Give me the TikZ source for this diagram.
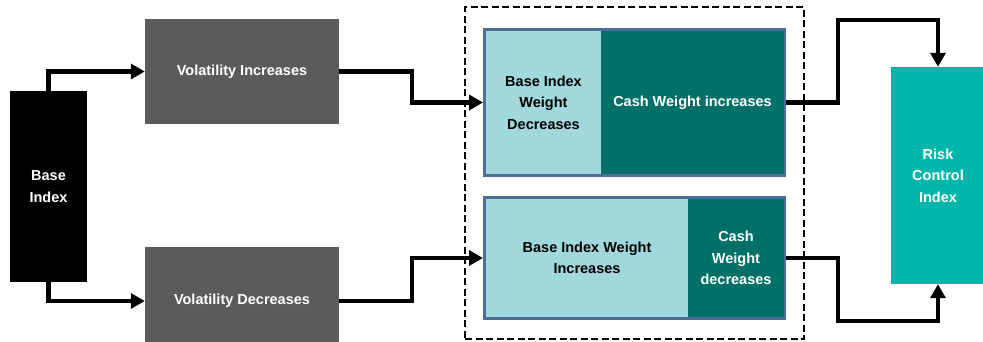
\documentclass[tikz,border=0pt]{standalone}
\usepackage{fontspec}
\setmainfont{Liberation Sans}
\usetikzlibrary{arrows.meta,calc}
\definecolor{volgray}{HTML}{5A5B5D}
\definecolor{lightcyan}{HTML}{A0D8DC}
\definecolor{darkteal}{HTML}{007068}
\definecolor{framebl}{HTML}{4F6D96}
\definecolor{riskteal}{HTML}{00B5AA}
\begin{document}
\begin{tikzpicture}[x=1pt,y=-1pt,
  box/.style={draw=none,inner sep=2pt,align=center,font=\bfseries\fontsize{14.5}{21.5}\selectfont,text=white},
  conn/.style={line width=4.5pt,-{Triangle[length=14pt,width=15pt]}}]
\useasboundingbox (0,0) rectangle (983,341);
% dashed group
\node[draw,dashed,dash pattern=on 7pt off 3.5pt,line width=2pt,minimum width=339pt,minimum height=332pt] (grp) at (634.5,173) {};
% base index
\node[box,fill=black,minimum width=77pt,minimum height=191pt] (base) at (48.5,186.5) {Base\\Index};
\node[box,fill=volgray,minimum width=194pt,minimum height=105pt] (vi) at (242,71.5) {Volatility Increases};
\node[box,fill=volgray,minimum width=194pt,minimum height=108pt] (vd) at (242,301) {Volatility Decreases};
% top composite box
\node[draw=framebl,line width=3pt,minimum width=300pt,minimum height=146pt] (tb) at (634.5,102.5) {};
\node[box,fill=lightcyan,text=black,minimum width=115pt,minimum height=143pt] (tbl) at (543.5,102.5) {Base Index\\Weight\\Decreases};
\node[box,fill=darkteal,minimum width=183pt,minimum height=143pt] (tbr) at (692.5,102.5) {Cash Weight increases};
% bottom composite box
\node[draw=framebl,line width=3pt,minimum width=300pt,minimum height=121pt] (bb) at (634.5,258) {};
\node[box,fill=lightcyan,text=black,minimum width=202pt,minimum height=118pt] (bbl) at (587,258) {Base Index Weight\\Increases};
\node[box,fill=darkteal,minimum width=96pt,minimum height=118pt] (bbr) at (736,258) {Cash\\Weight\\decreases};
% risk control
\node[box,fill=riskteal,minimum width=94pt,minimum height=217pt] (rc) at (938,175.5) {Risk\\Control\\Index};
% connectors
\coordinate (m1) at (412,102.5);
\coordinate (m2) at (412,258);
\coordinate (r1) at (838,20);
\coordinate (r2) at (838,321);
\draw[conn] (base.north) |- (vi.west);
\draw[conn] (base.south) |- (vd.west);
\draw[conn] (vi.east) -| (m1) -- (tb.west);
\draw[conn] (vd.east) -| (m2) -- (bb.west);
\draw[conn] (tb.east) -| (r1) -| (rc.north);
\draw[conn] (bb.east) -| (r2) -| (rc.south);
\end{tikzpicture}
\end{document}
